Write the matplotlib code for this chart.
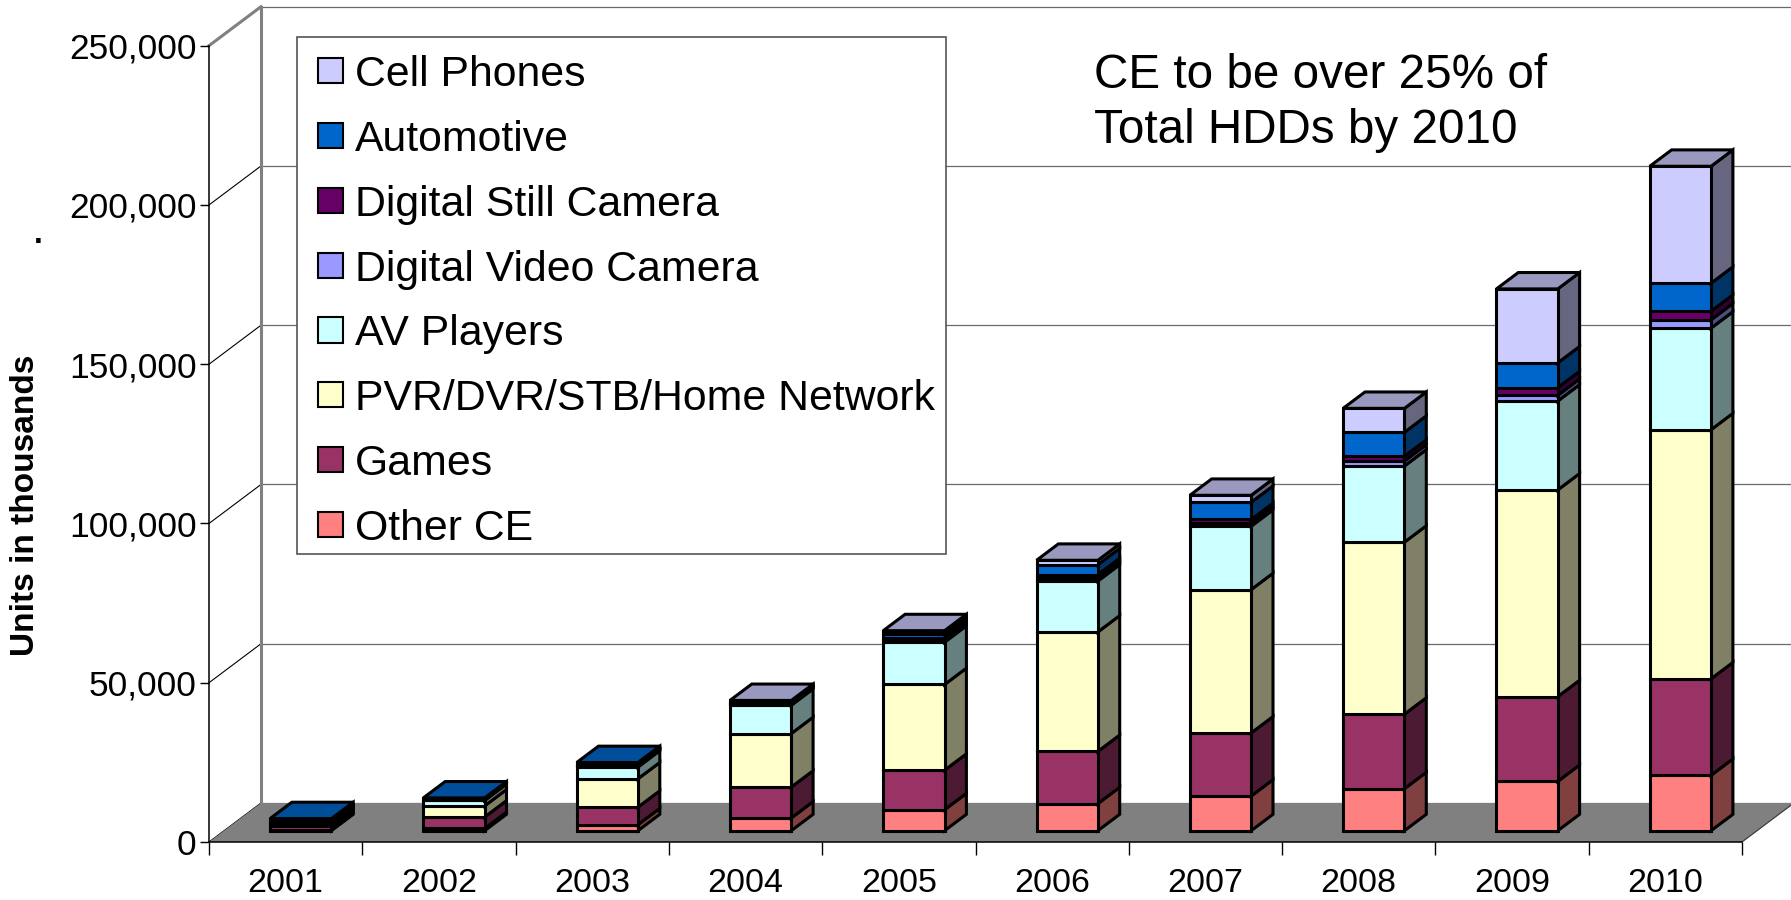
import matplotlib
matplotlib.use('Agg')
import matplotlib.pyplot as plt
from matplotlib.patches import Polygon, Rectangle
from matplotlib import colors as mcolors
from matplotlib import font_manager
import numpy as np

plt.rcParams['font.family'] = ['Liberation Sans', 'DejaVu Sans']

# units in thousands
years = ['2001', '2002', '2003', '2004', '2005', '2006', '2007', '2008', '2009', '2010']
other_ce = [300, 700, 1900, 4000, 6600, 8500, 10900, 13200, 15500, 17400]
games = [1200, 3600, 5500, 9700, 12400, 16400, 19800, 23400, 26600, 30300]
pvr = [500, 3500, 8900, 16800, 26900, 37500, 45000, 54000, 64900, 78200]
av_players = [300, 1700, 3700, 8900, 13300, 16000, 19900, 23900, 27900, 31900]
dvc = [200, 200, 300, 300, 600, 900, 1000, 1600, 1800, 2600]
dsc = [300, 300, 400, 300, 800, 1100, 1100, 1500, 2400, 2700]
automotive = [1000, 300, 700, 600, 1200, 3100, 5400, 7500, 7800, 8800]
cell_phones = [0, 0, 0, 300, 1000, 1400, 2200, 7500, 23200, 36700]

series = [other_ce, games, pvr, av_players, dvc, dsc, automotive, cell_phones]
names = ['Other CE', 'Games', 'PVR/DVR/STB/Home Network', 'AV Players',
         'Digital Video Camera', 'Digital Still Camera', 'Automotive', 'Cell Phones']
colors = ['#FF8080', '#993366', '#FFFFCC', '#CCFFFF', '#9999FF', '#660066', '#0066CC', '#CCCCFF']
yticks = [0, 50000, 100000, 150000, 200000, 250000]

W, H = 1791, 900
fig = plt.figure(figsize=(W / 100, H / 100), dpi=100)


def fx(x):
    return x / W


def fy(y):
    return 1 - y / H


ax = fig.add_axes([fx(209), 58 / H, 1533 / W, 796.3 / H])
ax.set_xlim(0, 10)
ax.set_ylim(0, 250000)

DX, DY = 0.339, 12240      # depth of the floor in data units
F0, F1 = 0.29, 0.71        # bar front / back depth fractions
ddx, ddy = (F1 - F0) * DX, (F1 - F0) * DY


def shade(c, k):
    r = np.array(mcolors.to_rgb(c)) * k
    return tuple(r)


# back wall gridlines and left wall
for t in yticks:
    ax.plot([DX, 10 + DX + 0.5], [t + DY, t + DY], color='#6a6a6a', lw=0.9,
            clip_on=False, zorder=1)
    if t < 250000:
        ax.plot([0, DX], [t, t + DY], color='black', lw=0.8, clip_on=False, zorder=1)
ax.plot([0, DX], [250000, 250000 + DY], color='#808080', lw=2.2, clip_on=False, zorder=1)
ax.plot([DX, DX], [DY, 250000 + DY], color='#808080', lw=2.2, clip_on=False, zorder=1)

# floor
ax.add_patch(Polygon([(0, 0), (10, 0), (10 + DX, DY), (DX, DY)], closed=True,
                     facecolor='#808080', edgecolor='none', clip_on=False, zorder=2))
ax.plot([10, 10 + DX], [0, DY], color='#333333', lw=0.8, clip_on=False, zorder=2)

# stacked 3d bars
lw = 2.2
for i in range(len(years)):
    base = 0
    x0 = i + 0.3 + F0 * DX
    x1 = i + 0.7 + F0 * DX
    top_k = max(k for k in range(len(series)) if series[k][i] > 0)
    for k, s in enumerate(series):
        v = s[i]
        if v <= 0:
            continue
        yb = base + F0 * DY
        yt = base + v + F0 * DY
        kw = dict(closed=True, edgecolor='black', lw=lw, joinstyle='miter', zorder=3)
        ax.add_patch(Polygon([(x1, yb), (x1 + ddx, yb + ddy), (x1 + ddx, yt + ddy), (x1, yt)],
                             facecolor=shade(colors[k], 0.5), **kw))
        ax.add_patch(Polygon([(x0, yb), (x1, yb), (x1, yt), (x0, yt)],
                             facecolor=colors[k], **kw))
        if k == top_k:
            ax.add_patch(Polygon([(x0, yt), (x1, yt), (x1 + ddx, yt + ddy), (x0 + ddx, yt + ddy)],
                                 facecolor=shade(colors[k], 0.75), **kw))
        base += v

# axes
for side in ['top', 'right']:
    ax.spines[side].set_visible(False)
ax.spines['left'].set_linewidth(1.1)
ax.spines['bottom'].set_linewidth(1.1)
ax.spines['left'].set_zorder(4)
ax.spines['bottom'].set_zorder(4)
ax.set_facecolor('none')
ax.set_yticks(yticks)
ax.set_yticklabels([f'{t:,}' for t in yticks])
ax.tick_params(axis='y', direction='out', length=6.5, width=1.0, pad=2.5, labelsize=25.5)
ax.set_xticks(np.arange(0, 11))
ax.set_xticklabels([])
ax.tick_params(axis='x', which='major', direction='out', length=9.5, width=1.0)
ax.set_xticks(np.arange(10) + 0.5, minor=True)
ax.set_xticklabels(years, minor=True)
ax.tick_params(axis='x', which='minor', length=0, pad=19, labelsize=24.5)

fig.text(fx(26), fy(505), 'Units in thousands', rotation=90, fontsize=24,
         fontweight='bold', ha='center', va='center')
fig.text(fx(38), fy(243), '.', fontsize=23, fontweight='bold', ha='center', va='baseline')

# annotation
fig.text(fx(1094), fy(88), 'CE to be over 25% of', fontsize=34.3, va='baseline', ha='left')
fig.text(fx(1094), fy(142.8), 'Total HDDs by 2010', fontsize=34.3, va='baseline', ha='left')

# legend
installed = {f.name for f in font_manager.fontManager.ttflist}
if 'Liberation Sans Narrow' in installed:
    leg_font, leg_size = ['Liberation Sans Narrow', 'DejaVu Sans'], 36.5
else:
    leg_font, leg_size = ['Liberation Sans', 'DejaVu Sans'], 30.8
cap = 0.72 * leg_size * 100 / 72

fig.patches.append(Rectangle((fx(297), fy(554)), (946 - 297) / W, (554 - 37) / H,
                             transform=fig.transFigure, facecolor='white',
                             edgecolor='#555555', lw=1.2, zorder=5))
for j, k in enumerate(reversed(range(len(series)))):
    cy = 70.8 + j * 64.8
    fig.patches.append(Rectangle((fx(317.5), fy(cy + 12.6)), 25.2 / W, 25.2 / H,
                                 transform=fig.transFigure, facecolor=colors[k],
                                 edgecolor='black', lw=1.5, zorder=6))
    fig.text(fx(355), fy(cy + cap / 2), names[k], family=leg_font, fontsize=leg_size,
             va='baseline', ha='left', zorder=7)

fig.savefig('out.png', dpi=100)
